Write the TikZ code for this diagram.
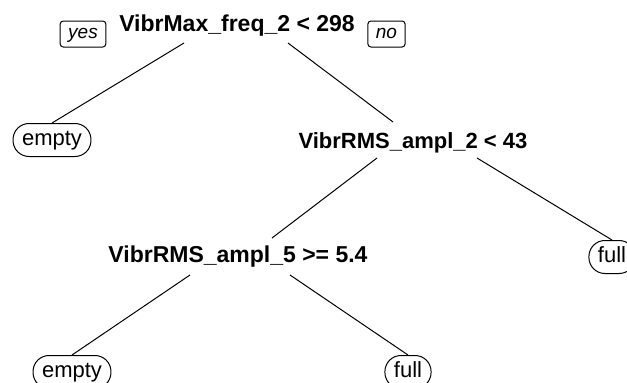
\documentclass[tikz,border=0pt]{standalone}
\usepackage{fontspec}
\setmainfont{Liberation Sans}
\usepackage{tikz}

\begin{document}
\begin{tikzpicture}[x=1pt,y=-1pt,line width=1pt]
		\tikzstyle{every node}+=[inner sep=0pt]
		\tikzstyle{split}=[font=\fontsize{23}{26}\selectfont\bfseries, anchor=base]
		\tikzstyle{leaf}=[draw, rounded corners=16pt, minimum height=33pt, inner xsep=9pt, text height=15pt, text depth=4pt, font=\fontsize{22}{24}\selectfont]
		\tikzstyle{answer}=[draw, rounded corners=3pt, minimum height=26pt, inner xsep=8pt, text height=10pt, text depth=1pt, font=\fontsize{19}{22}\selectfont\itshape]
		\useasboundingbox (0,0) rectangle (627,383);
		\node [split] (root) at (237,31) {VibrMax\_freq\_2 < 298};
		\node [answer] (yes) at (83,34) {yes};
		\node [answer] (no) at (386.5,34) {no};
		\node [leaf] (empty1) at (52,140) {empty};
		\node [split, font=\fontsize{22}{26}\selectfont\bfseries] (ampl2) at (413,148) {VibrRMS\_ampl\_2 < 43};
		\node [split] (ampl5) at (238,262) {VibrRMS\_ampl\_5 >= 5.4};
		\node [leaf] (full1) at (612,257) {full};
		\node [leaf] (empty2) at (72,372) {empty};
		\node [leaf] (full2) at (408,372) {full};
		\draw ([shift={(-53,12)}]root.base) -- (empty1.north);
		\draw ([shift={(51,12)}]root.base) -- ([shift={(-20,-26)}]ampl2.base);
		\draw ([shift={(-36,10)}]ampl2.base) -- ([shift={(34,-24)}]ampl5.base);
		\draw ([shift={(64,10)}]ampl2.base) -- (full1.north);
		\draw ([shift={(-48,13)}]ampl5.base) -- (empty2.north);
		\draw ([shift={(52,13)}]ampl5.base) -- (full2.north);
\end{tikzpicture}
\end{document}
